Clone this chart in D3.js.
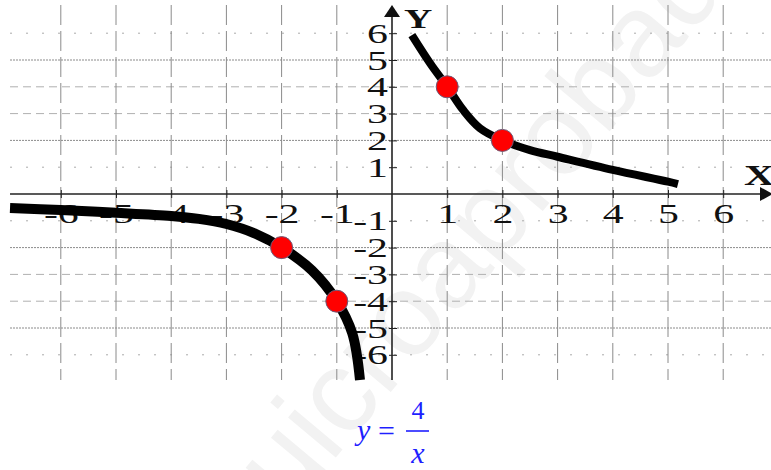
<!DOCTYPE html>
<html>
<head>
<meta charset="utf-8">
<script src="https://cdn.jsdelivr.net/npm/d3@7"></script>
<style>
  body { margin: 0; background: #fff; }
  svg { display: block; }
  text { font-family: "Liberation Serif", "DejaVu Serif", serif; }
  .wm { font-family: "Liberation Sans", Arial, sans-serif; }
</style>
</head>
<body>
<div id="chart"></div>
<script>
// values
const xTicks = [-6, -5, -4, -3, -2, -1, 1, 2, 3, 4, 5, 6];
const yTicks = [-6, -5, -4, -3, -2, -1, 1, 2, 3, 4, 5, 6];
const branchRight = [[0.36, 5.93], [0.69, 4.88], [1, 4], [1.29, 3.13], [1.59, 2.46], [2, 2], [2.5, 1.64], [3, 1.39], [4, 0.9], [5, 0.46], [5.18, 0.37]];
const branchLeft = [[-6.92, -0.52], [-6, -0.6], [-5, -0.7], [-4, -0.82], [-3.5, -0.93], [-3, -1.12], [-2.5, -1.46], [-2, -2], [-1.45, -2.85], [-1, -4], [-0.72, -5.2], [-0.58, -6.94]];
const points = [[-2, -2], [-1, -4], [1, 4], [2, 2]];

const width = 771;
const height = 470;
const stretch = 1.55; // the picture's digits are drawn wide

const svg = d3.select("#chart")
    .append("svg")
    .attr("width", width)
    .attr("height", height);

const x = d3.scaleLinear().domain([-7, 7]).range([5.6, 778.4]);
const y = d3.scaleLinear().domain([-7, 7]).range([381.6, 6.4]);

// watermark
svg.append("text")
    .attr("class", "wm")
    .attr("transform", "translate(510,250) rotate(-50)")
    .attr("text-anchor", "middle")
    .attr("font-size", 118)
    .attr("fill", "#f2f2f2")
    .text("guicroaprobado");

// grid
const gridLeft = x(-6.92), gridRight = width, gridTop = 5, gridBottom = 380;

function hStyle(v) {
    const a = Math.abs(v);
    if (a === 2 || a === 5) return { dash: "2,1", color: "#8a8a8a" };
    if (a === 3 || a === 4) return { dash: "8,5", color: "#b0b0b0" };
    return { dash: "2,14", color: "#aaaaaa" };
}

svg.append("g")
    .selectAll("line")
    .data(yTicks)
    .join("line")
    .attr("x1", gridLeft)
    .attr("x2", gridRight)
    .attr("y1", d => y(d))
    .attr("y2", d => y(d))
    .attr("stroke", d => hStyle(d).color)
    .attr("stroke-width", 1)
    .attr("stroke-dasharray", d => hStyle(d).dash);

svg.append("g")
    .selectAll("line")
    .data(xTicks)
    .join("line")
    .attr("x1", d => x(d))
    .attr("x2", d => x(d))
    .attr("y1", gridTop)
    .attr("y2", gridBottom)
    .attr("stroke", "#8a8a8a")
    .attr("stroke-width", 1)
    .attr("stroke-dasharray", "20,6");

// axes
svg.append("line")
    .attr("x1", gridLeft).attr("x2", width - 8)
    .attr("y1", y(0)).attr("y2", y(0))
    .attr("stroke", "#222").attr("stroke-width", 1.6);

svg.append("line")
    .attr("x1", x(0)).attr("x2", x(0))
    .attr("y1", gridBottom).attr("y2", 14)
    .attr("stroke", "#222").attr("stroke-width", 1.6);

svg.append("path")
    .attr("d", `M${x(0)},5 L${x(0) - 8},17 L${x(0) + 8},17 Z`)
    .attr("fill", "#111");

svg.append("path")
    .attr("d", `M${width + 2},${y(0)} L${width - 11},${y(0) - 7} L${width - 11},${y(0) + 7} Z`)
    .attr("fill", "#111");

const fmt = d => d < 0 ? "-" + Math.abs(d) : d;

const xAxis = svg.append("g")
    .attr("transform", `translate(0,${y(0)})`)
    .call(d3.axisBottom(x).tickValues(xTicks).tickSize(4).tickFormat(fmt));
xAxis.attr("font-family", null).attr("font-size", null);
xAxis.select(".domain").remove();
xAxis.selectAll("line").attr("stroke", "#222").attr("y1", -4);
xAxis.selectAll("text")
    .attr("x", 0)
    .attr("y", 0)
    .attr("dy", 0)
    .attr("transform", `translate(0,29) scale(${stretch},1)`)
    .style("font-size", "27px")
    .attr("fill", "#111");

const yAxis = svg.append("g")
    .attr("transform", `translate(${x(0)},0)`)
    .call(d3.axisRight(y).tickValues(yTicks).tickSize(5).tickFormat(fmt));
yAxis.attr("font-family", null).attr("font-size", null);
yAxis.select(".domain").remove();
yAxis.selectAll("line").attr("stroke", "#222").attr("x1", -3);
yAxis.selectAll("text")
    .attr("x", 0)
    .attr("dy", "0.34em")
    .attr("transform", `translate(-4,0) scale(${stretch},1)`)
    .attr("text-anchor", "end")
    .style("font-size", "27px")
    .attr("fill", "#111");

svg.append("text")
    .attr("transform", `translate(404,28) scale(1.45,1)`)
    .style("font-size", "27px").attr("font-weight", "bold")
    .attr("fill", "#111")
    .text("Y");

svg.append("text")
    .attr("transform", `translate(744,185) scale(1.45,1)`)
    .style("font-size", "29px").attr("font-weight", "bold")
    .attr("fill", "#111")
    .text("X");

// curve
const line = d3.line()
    .x(d => x(d[0]))
    .y(d => y(d[1]))
    .curve(d3.curveCatmullRom.alpha(0.5));

svg.append("path")
    .datum(branchRight)
    .attr("d", line)
    .attr("fill", "none")
    .attr("stroke", "#000")
    .attr("stroke-width", 8);

svg.append("path")
    .datum(branchLeft)
    .attr("d", line)
    .attr("fill", "none")
    .attr("stroke", "#000")
    .attr("stroke-width", 10);

svg.append("g")
    .selectAll("circle")
    .data(points)
    .join("circle")
    .attr("cx", d => x(d[0]))
    .attr("cy", d => y(d[1]))
    .attr("r", 11)
    .attr("fill", "#ff0000")
    .attr("stroke", "#6b5a78")
    .attr("stroke-width", 1);

// formula
const eq = svg.append("g")
    .attr("fill", "#1f1fff")
    .style("font-size", "30px");
eq.append("text").attr("x", 357).attr("y", 440).attr("font-style", "italic").text("y");
eq.append("text").attr("x", 378).attr("y", 441).text("=");
eq.append("text").attr("x", 418).attr("y", 419).attr("text-anchor", "middle").style("font-size", "26px").text("4");
eq.append("line")
    .attr("x1", 406).attr("x2", 429)
    .attr("y1", 431).attr("y2", 431)
    .attr("stroke", "#1f1fff").attr("stroke-width", 1.6);
eq.append("text").attr("x", 418).attr("y", 463).attr("text-anchor", "middle").attr("font-style", "italic").text("x");
</script>
</body>
</html>
